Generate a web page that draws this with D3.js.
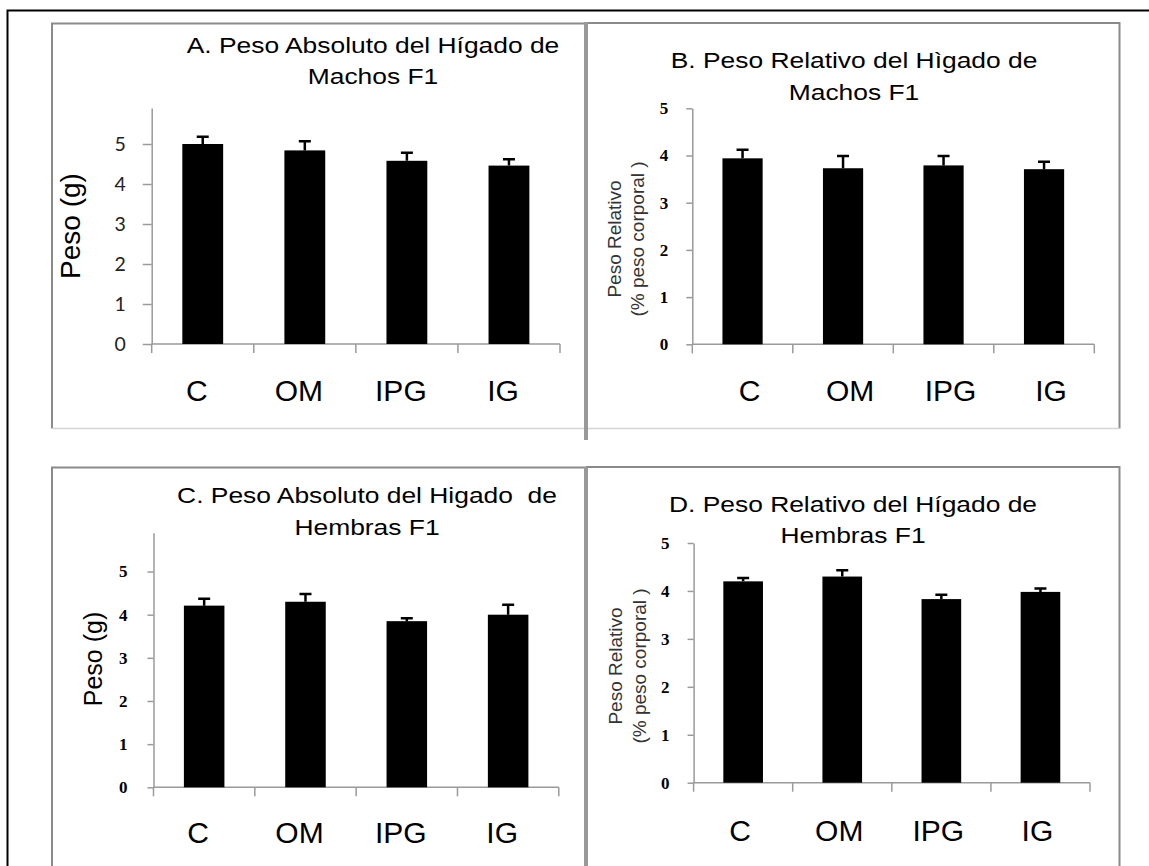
<!DOCTYPE html>
<html>
<head>
<meta charset="utf-8">
<script src="https://cdn.jsdelivr.net/npm/d3@7"></script>
<style>
  body { margin: 0; background: #fff; }
  svg { display: block; }
</style>
</head>
<body>
<script>
const categories = ["C", "OM", "IPG", "IG"]

// (mean and upper error bar)
const absMachos = [5.00, 4.84, 4.58, 4.46]
const absMachosErr = [0.18, 0.23, 0.20, 0.16]
const relMachos = [3.94, 3.73, 3.79, 3.71]
const relMachosErr = [0.18, 0.26, 0.20, 0.16]
const absHembras = [4.21, 4.30, 3.85, 4.00]
const absHembrasErr = [0.16, 0.18, 0.07, 0.23]
const relHembras = [4.20, 4.30, 3.83, 3.98]
const relHembrasErr = [0.07, 0.13, 0.09, 0.07]

const yTicks = [0, 1, 2, 3, 4, 5]

const titleA = ["A. Peso Absoluto del Hígado de", "Machos F1"]
const titleB = ["B. Peso Relativo del Hìgado de", "Machos F1"]
const titleC = ["C. Peso Absoluto del Higado  de", "Hembras F1"]
const titleD = ["D. Peso Relativo del Hígado de", "Hembras F1"]
const labelAbs = ["Peso (g)"]
const labelRel = ["Peso Relativo", "(% peso corporal )"]

const W = 1149, H = 866
const axisColor = "#9a9a9a"

const svg = d3.select("body")
    .append("svg")
    .attr("width", W)
    .attr("height", H)

// outer frame (page border, cropped at right/bottom)
svg.append("path")
    .attr("d", `M7.5,${H}V10.5H${W}`)
    .attr("fill", "none")
    .attr("stroke", "#000")
    .attr("stroke-width", 2)

// chart boxes
const boxLine = (d, color, w) => svg.append("path")
    .attr("d", d)
    .attr("fill", "none")
    .attr("stroke", color)
    .attr("stroke-width", w)

boxLine("M52,428.5V23.5H586", "#8a8a8a", 2)
boxLine("M52,428.5H584", "#d4d4d4", 1.5)
boxLine("M586,23H1119.5V428.5", "#8a8a8a", 2)
boxLine("M586,428.5H1119.5", "#d4d4d4", 1.5)
boxLine("M586,22V440", "#999", 4)
boxLine(`M52,${H}V467.5H586`, "#8a8a8a", 2)
boxLine(`M586,467H1119.5V${H}`, "#8a8a8a", 2)
boxLine(`M586,467V${H}`, "#999", 4)

const panels = [
    {
        values: absMachos, errors: absMachosErr, title: titleA, yLabel: labelAbs,
        x0: 151.7, x1: 560, yBase: 344, yTop: 108, yMax: 5.9,
        tickFont: "Lato, 'Open Sans', sans-serif", tickWeight: 400, tickFontSize: 19.5, tickColor: "#222",
        tickLen: 9, tickPad: 17,
        titleX: 373, titleY: [52.5, 83.5],
        catY: 400.7, catDx: -6,
        yLabelX: [80], yLabelY: 226, yLabelSize: 28
    },
    {
        values: relMachos, errors: relMachosErr, title: titleB, yLabel: labelRel,
        x0: 692.3, x1: 1094.3, yBase: 344.3, yTop: 108.3, yMax: 5,
        tickFont: "'Liberation Serif', serif", tickWeight: 700, tickFontSize: 17, tickColor: "#000",
        tickLen: 6, tickPad: 18,
        titleX: 854, titleY: [68.3, 100],
        catY: 400.7, catDx: 7,
        yLabelX: [621, 644], yLabelY: 239, yLabelSize: 19
    },
    {
        values: absHembras, errors: absHembrasErr, title: titleC, yLabel: labelAbs,
        x0: 153.5, x1: 558.8, yBase: 787.3, yTop: 532.7, yMax: 5.9,
        tickFont: "'Liberation Serif', serif", tickWeight: 700, tickFontSize: 17, tickColor: "#000",
        tickLen: 6, tickPad: 20,
        titleX: 367, titleY: [503.3, 535],
        catY: 843, catDx: -6,
        yLabelX: [102], yLabelY: 659, yLabelSize: 25
    },
    {
        values: relHembras, errors: relHembrasErr, title: titleD, yLabel: labelRel,
        x0: 693.6, x1: 1090, yBase: 782.7, yTop: 543, yMax: 5,
        tickFont: "'Liberation Serif', serif", tickWeight: 700, tickFontSize: 17, tickColor: "#000",
        tickLen: 6, tickPad: 18,
        titleX: 853, titleY: [511.7, 542.7],
        catY: 841, catDx: -3,
        yLabelX: [622, 646], yLabelY: 666, yLabelSize: 19
    }
]

function drawPanel(p) {
    const g = svg.append("g")

    const x = d3.scaleBand()
        .domain(categories)
        .range([p.x0, p.x1])
        .paddingInner(0.6)
        .paddingOuter(0.3)

    const y = d3.scaleLinear()
        .domain([0, p.yMax])
        .range([p.yBase, p.yTop])

    // y axis
    const yAxis = g.append("g")
        .attr("transform", `translate(${p.x0},0)`)
        .call(d3.axisLeft(y)
            .tickValues(yTicks)
            .tickFormat(d3.format("d"))
            .tickSize(p.tickLen)
            .tickSizeOuter(0)
            .tickPadding(p.tickPad))
    yAxis.select(".domain").attr("stroke", axisColor).attr("stroke-width", 1.5)
    yAxis.selectAll(".tick line").attr("stroke", axisColor).attr("stroke-width", 1.5)
    yAxis.selectAll(".tick text")
        .attr("fill", p.tickColor)
        .style("font-family", p.tickFont)
        .style("font-weight", p.tickWeight)
        .style("font-size", `${p.tickFontSize}px`)

    // x axis with ticks at category boundaries
    g.append("line")
        .attr("x1", p.x0).attr("x2", p.x1)
        .attr("y1", p.yBase).attr("y2", p.yBase)
        .attr("stroke", axisColor).attr("stroke-width", 1.5)
    g.selectAll(".xtick")
        .data(d3.range(categories.length + 1))
        .join("line")
        .attr("class", "xtick")
        .attr("x1", i => x.range()[0] + i * x.step())
        .attr("x2", i => x.range()[0] + i * x.step())
        .attr("y1", p.yBase)
        .attr("y2", p.yBase + 9)
        .attr("stroke", axisColor).attr("stroke-width", 1.5)

    // bars
    g.selectAll(".bar")
        .data(categories)
        .join("rect")
        .attr("class", "bar")
        .attr("x", d => x(d))
        .attr("width", x.bandwidth())
        .attr("y", (d, i) => y(p.values[i]))
        .attr("height", (d, i) => y(0) - y(p.values[i]))
        .attr("fill", "#000")

    // upper error bars
    const cx = d => x(d) + x.bandwidth() / 2
    g.selectAll(".err")
        .data(categories)
        .join("path")
        .attr("class", "err")
        .attr("d", (d, i) => {
            const top = y(p.values[i] + p.errors[i])
            return `M${cx(d)},${y(p.values[i])}V${top}M${cx(d) - 6},${top}H${cx(d) + 6}`
        })
        .attr("fill", "none")
        .attr("stroke", "#000")
        .attr("stroke-width", 2.5)

    // category labels
    g.selectAll(".cat")
        .data(categories)
        .join("text")
        .attr("class", "cat")
        .attr("x", d => cx(d) + p.catDx)
        .attr("y", p.catY)
        .attr("text-anchor", "middle")
        .style("font-family", "'Liberation Sans', Arial, sans-serif")
        .style("font-size", "30px")
        .text(d => d)

    // title, slightly widened like the original
    p.title.forEach((line, i) => {
        g.append("text")
            .attr("transform", `translate(${p.titleX},${p.titleY[i]}) scale(1.2,1)`)
            .attr("text-anchor", "middle")
            .style("font-family", "'Liberation Sans', Arial, sans-serif")
            .style("font-size", "22px")
            .style("white-space", "pre")
            .text(line)
    })

    // y label
    p.yLabel.forEach((line, i) => {
        g.append("text")
            .attr("transform", `translate(${p.yLabelX[i]},${p.yLabelY}) rotate(-90)`)
            .attr("text-anchor", "middle")
            .attr("fill", p.yLabel.length > 1 ? "#333" : "#000")
            .style("font-family", "'Liberation Sans', Arial, sans-serif")
            .style("font-size", `${p.yLabelSize}px`)
            .style("white-space", "pre")
            .text(line)
    })
}

panels.forEach(drawPanel)
</script>
</body>
</html>
